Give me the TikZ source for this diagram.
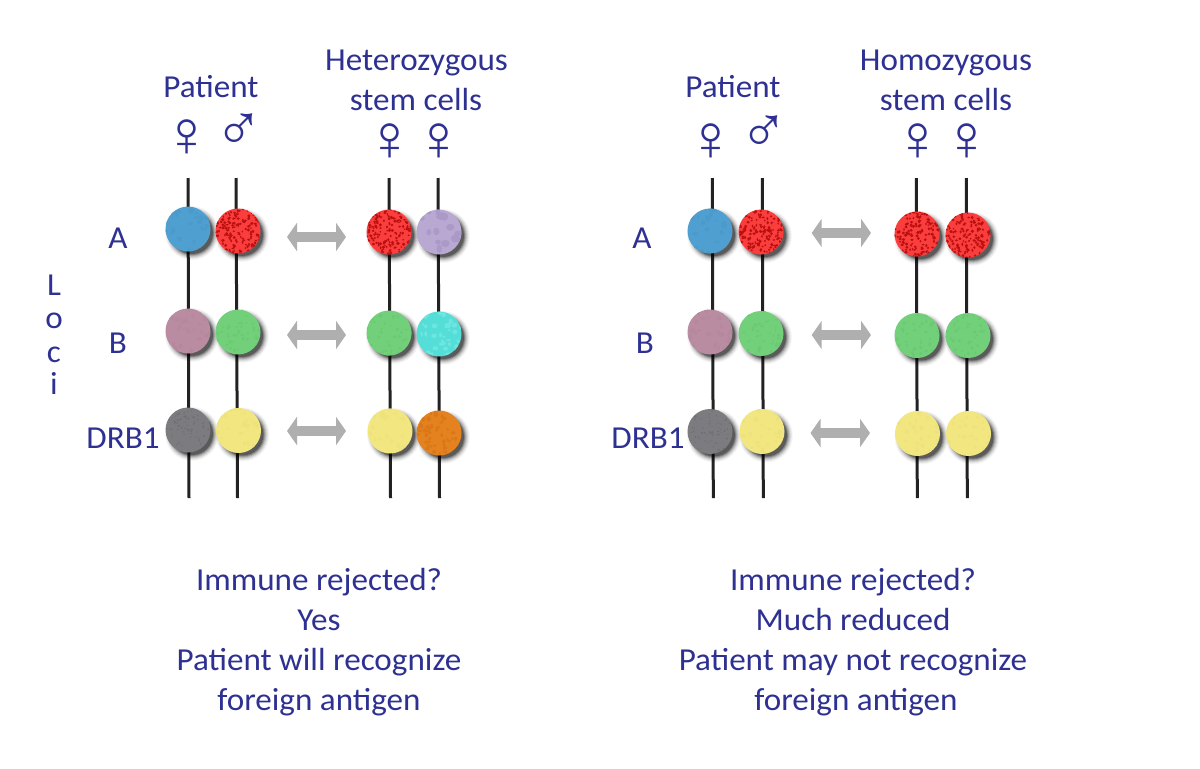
\documentclass[tikz,border=0pt]{standalone}
\usepackage{fontspec}
\setmainfont{Carlito}[FakeStretch=1.035]
\newfontfamily\symfont{Liberation Sans}
\usetikzlibrary{arrows.meta}
\definecolor{ink}{HTML}{2E3192}
\definecolor{rod}{HTML}{222222}
\definecolor{arrowgray}{HTML}{AFAFAF}
\definecolor{cblue}{HTML}{4F9FD0}
\definecolor{cbluex}{HTML}{4A9ACB}
\definecolor{cred}{HTML}{FA3E3E}
\definecolor{credx}{HTML}{BC0F0F}
\definecolor{cpurple}{HTML}{B8A8D2}
\definecolor{cpurplex}{HTML}{AB9AC7}
\definecolor{cpink}{HTML}{BA8CA2}
\definecolor{cpinkx}{HTML}{B6889E}
\definecolor{cgreen}{HTML}{72D07A}
\definecolor{cgreenx}{HTML}{6BC974}
\definecolor{ccyan}{HTML}{55DDD8}
\definecolor{ccyanx}{HTML}{6CE6E1}
\definecolor{cgray}{HTML}{7B7B80}
\definecolor{cgrayx}{HTML}{6E6E73}
\definecolor{cyellow}{HTML}{F1E67F}
\definecolor{cyellowx}{HTML}{EEE37A}
\definecolor{corange}{HTML}{E58220}
\definecolor{corangex}{HTML}{DA7718}
\tikzset{
  txt/.style={text=ink,anchor=base,inner sep=0pt,font=\fontsize{24}{29}\selectfont},
  sym/.style={text=ink,anchor=base,inner sep=0pt,text height=18pt,text depth=0pt,font=\symfont\fontsize{49}{49}\selectfont},
  rodline/.style={draw=rod,line width=2.25pt},
  allele/.style={circle,inner sep=0pt,minimum size=33.75pt,fill=#1},
  dblarrow/.style={draw=arrowgray,line width=7.5pt,{Triangle[length=7.5pt,width=21pt]}-{Triangle[length=7.5pt,width=21pt]},shorten >=0pt,shorten <=0pt},
}
% shadow + disc + texture
\newcommand\speckle[6]{% count, colour, rmin, rmax, x, y
  \foreach \i in {1,...,#1}{%
    \pgfmathsetmacro\sa{360*rnd}%
    \pgfmathsetmacro\sb{23*sqrt(rnd)}%
    \pgfmathsetmacro\sr{#3+(#4-#3)*rnd}%
    \pgfmathsetmacro\sq{#3+(#4-#3)*rnd}%
    \fill[#2] ({#5+\sb*cos(\sa)},{#6+\sb*sin(\sa)}) ellipse[x radius=\sr,y radius=\sq];
  }%
}
\newcommand\disc[7]{% name,x,y,colour,count,rmin,rmax  (texture colour = colour+x)
  \foreach \r/\o in {27/.03,26/.05,25/.07,24/.1,23/.14,22/.22,21/.3}{%
    \fill[black,opacity=\o] ({#2+4},{#3+4}) circle[radius=\r];
  }
  \node[allele=#4] (#1) at (#2,#3) {};
  \begin{scope}
    \clip (#2,#3) circle[radius=22.5];
    \speckle{#5}{#4x}{#6}{#7}{#2}{#3}
  \end{scope}
}
\begin{document}
\begin{tikzpicture}[x=.75pt,y=-.75pt]
\pgfmathsetseed{4217}
\useasboundingbox (0,0) rectangle (1200,768);
\fill[white] (0,0) rectangle (1200,768);

% chromosome rods
\foreach \n/\xa/\xb in {p/188/189,q/236/237.5,r/389/390.5,s/438/439.5,t/712.3/713.3,u/762.3/763.3,v/916.3/917.3,w/966.3/967.3}{
  \coordinate (\n top) at (\xa,178);
  \coordinate (\n bot) at (\xb,498);
  \draw[rodline] (\n top) -- (\n bot);
}

% alleles, left panel
\disc{a1}{188}{229}{cblue}{25}{1}{3}
\disc{a2}{238}{231}{cred}{140}{.8}{1.8}
\disc{a3}{389}{232}{cred}{140}{.8}{1.8}
\disc{a4}{439}{232}{cpurple}{16}{2}{4.5}
\disc{b1}{188}{331}{cpink}{25}{1}{3}
\disc{b2}{238}{332}{cgreen}{40}{.8}{2}
\disc{b3}{389}{333}{cgreen}{40}{.8}{2}
\disc{b4}{439}{334}{ccyan}{40}{1}{3}
\disc{c1}{188}{430}{cgray}{60}{.5}{1.2}
\disc{c2}{238.5}{430.5}{cyellow}{25}{1}{2.5}
\disc{c3}{390}{431}{cyellow}{25}{1}{2.5}
\disc{c4}{439}{433}{corange}{50}{1}{2.5}
% alleles, right panel
\disc{d1}{710}{231}{cblue}{25}{1}{3}
\disc{d2}{761}{232}{cred}{140}{.8}{1.8}
\disc{d3}{917}{234}{cred}{140}{.8}{1.8}
\disc{d4}{968}{235}{cred}{140}{.8}{1.8}
\disc{e1}{710}{332}{cpink}{25}{1}{3}
\disc{e2}{761}{333.5}{cgreen}{40}{.8}{2}
\disc{e3}{917}{335.5}{cgreen}{40}{.8}{2}
\disc{e4}{968}{335.5}{cgreen}{40}{.8}{2}
\disc{f1}{710}{431.5}{cgray}{60}{.5}{1.2}
\disc{f2}{762}{431.5}{cyellow}{25}{1}{2.5}
\disc{f3}{917.5}{433.5}{cyellow}{25}{1}{2.5}
\disc{f4}{968.5}{433.5}{cyellow}{25}{1}{2.5}

% double arrows
\foreach \n/\xa/\xb/\yy in {ga/287/346/237,gb/287/346/335,gc/287/346/431,ha/811.7/871/233,hb/811.7/871/335,hc/810.5/870/433}{
  \coordinate (\n l) at (\xa,\yy);
  \coordinate (\n r) at (\xb,\yy);
  \draw[dblarrow] (\n l) -- (\n r);
}

% headings
\node[txt] (patl) at (211,97) {Patient};
\node[txt] (hetl) at (416.5,70) {Heterozygous};
\node[txt] (stml) at (416,110) {stem cells};
\node[txt] (patr) at (733,97) {Patient};
\node[txt] (homr) at (946,70) {Homozygous};
\node[txt] (stmr) at (946,110) {stem cells};

% sex symbols
\node[sym] (s1) at (187,156) {♀};
\node[sym] (s2) at (238.5,150) {♂};
\node[sym] (s3) at (390,160) {♀};
\node[sym] (s4) at (439,160) {♀};
\node[sym] (s5) at (711,160) {♀};
\node[sym] (s6) at (763.5,152) {♂};
\node[sym] (s7) at (918,160) {♀};
\node[sym] (s8) at (967,160) {♀};

% locus labels
\node[txt] (la) at (118,248) {A};
\node[txt] (lb) at (118,353) {B};
\node[txt] (lc) at (123,448) {DRB1};
\node[txt] (ra) at (642,248) {A};
\node[txt] (rb) at (645,353) {B};
\node[txt] (rc) at (648,448) {DRB1};
\node[txt] (l1) at (54,295) {L};
\node[txt] (l2) at (54,328) {o};
\node[txt] (l3) at (54,362) {c};
\node[txt] (l4) at (54,394) {i};

% captions
\node[txt] (cl1) at (319,590) {Immune rejected?};
\node[txt] (cl2) at (319,630) {Yes};
\node[txt] (cl3) at (319,670) {Patient will recognize};
\node[txt] (cl4) at (319,710) {foreign antigen};
\node[txt] (cr1) at (853,590) {Immune rejected?};
\node[txt] (cr2) at (853,630) {Much reduced};
\node[txt] (cr3) at (853,670) {Patient may not recognize};
\node[txt] (cr4) at (856,710) {foreign antigen};
\end{tikzpicture}
\end{document}
